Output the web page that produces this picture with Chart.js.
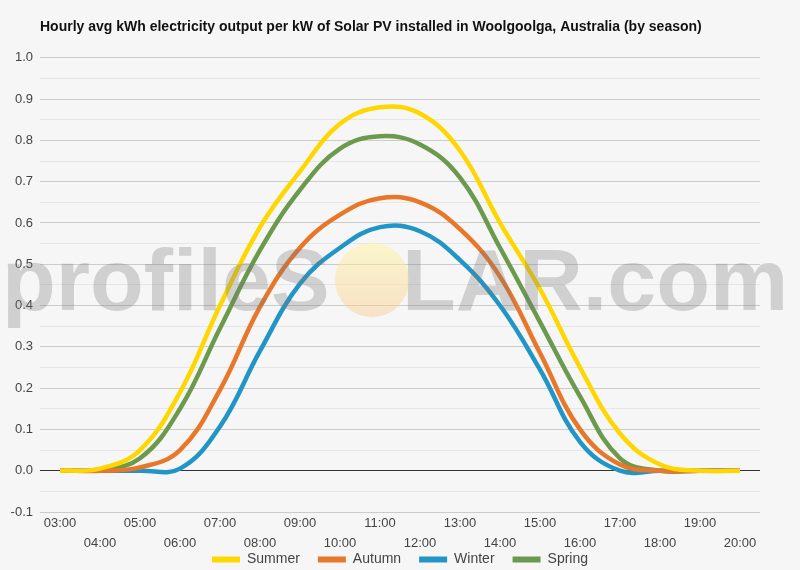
<!DOCTYPE html>
<html>
<head>
<meta charset="utf-8">
<script src="https://cdn.jsdelivr.net/npm/chart.js@4"></script>
<style>
  html, body { margin: 0; padding: 0; background: #f6f6f6; }
  #wrap { width: 800px; height: 570px; position: relative; }
</style>
</head>
<body>
<div id="wrap"><canvas id="myChart"></canvas></div>
<script>

var hours = ['03:00', '04:00', '05:00', '06:00', '07:00', '08:00', '09:00', '10:00', '11:00',
             '12:00', '13:00', '14:00', '15:00', '16:00', '17:00', '18:00', '19:00', '20:00'];

var summer = [0, 0.005, 0.05, 0.19, 0.40, 0.59, 0.725, 0.84, 0.88, 0.865, 0.775, 0.60, 0.44, 0.25, 0.09, 0.015, 0, 0];
var autumn = [0, 0, 0.008, 0.05, 0.196, 0.397, 0.54, 0.62, 0.66, 0.65, 0.585, 0.47, 0.285, 0.10, 0.015, 0, 0, 0];
var winter = [0, 0, 0, 0.005, 0.107, 0.29, 0.453, 0.54, 0.59, 0.58, 0.51, 0.40, 0.245, 0.07, 0, 0, 0, 0];
var spring = [0, 0.003, 0.03, 0.15, 0.345, 0.534, 0.68, 0.78, 0.81, 0.79, 0.71, 0.54, 0.36, 0.18, 0.03, 0, 0, 0];

var seasonNames = ['Summer', 'Autumn', 'Winter', 'Spring'];
var seasonColors = ['#ffd700', '#e8772a', '#2196c6', '#6b9a4c'];

var FONT = '"Liberation Sans", Arial, sans-serif';

var tweaks = {
  id: 'tweaks',
  beforeLayout: function(chart) {
    // keep legend thin, items still spaced by labels.padding
    var lg = chart.legend;
    if (lg && !lg._thin) {
      var fit = lg.fit;
      lg.fit = function() { fit.call(this); this.height = 26; };
      lg._thin = true;
    }
  },
  afterLayout: function(chart) {
    var lg = chart.legend;
    lg.top = 534.5;
    lg.left += 20;
    lg.right += 20;
  },
  // watermark sits on top of everything, semi transparent
  afterDraw: function(chart) {
    var ctx = chart.ctx;
    ctx.save();
    ctx.font = 'bold 88px ' + FONT;
    ctx.textBaseline = 'alphabetic';
    ctx.fillStyle = 'rgba(120, 120, 120, 0.3)';
    ctx.fillText('profileS', 2, 310);
    ctx.fillText('LAR.com', 402, 310);
    var g = ctx.createLinearGradient(0, 243, 0, 317);
    g.addColorStop(0, 'rgba(255, 245, 150, 0.45)');
    g.addColorStop(1, 'rgba(250, 200, 140, 0.45)');
    ctx.fillStyle = g;
    ctx.beginPath();
    ctx.arc(372, 280, 37, 0, Math.PI * 2);
    ctx.fill();
    ctx.restore();
  }
};

var ctx = document.getElementById('myChart').getContext('2d');
var myChart = new Chart(ctx, {
  type: 'line',
  data: {
    labels: hours,
    datasets: seasonNames.map(function(name, i) {
      return {
        label: name,
        data: [summer, autumn, winter, spring][i],
        borderColor: seasonColors[i],
        backgroundColor: seasonColors[i],
        borderWidth: 4.5,
        pointRadius: 0,
        tension: 0.4,
        fill: false
      };
    })
  },
  options: {
    responsive: true,
    maintainAspectRatio: false,
    animation: false,
    layout: { padding: { left: 0, right: 40, top: 0, bottom: 0 } },
    plugins: {
      title: {
        display: true,
        text: 'Hourly avg kWh electricity output per kW of Solar PV installed in Woolgoolga, Australia (by season)',
        align: 'start',
        fullSize: false,
        color: '#111',
        font: { family: FONT, size: 14, weight: 'bold' },
        padding: { top: 19, bottom: 22 }
      },
      legend: {
        position: 'bottom',
        labels: {
          boxWidth: 28,
          boxHeight: 6,
          padding: 18,
          color: '#444',
          font: { family: FONT, size: 14 },
          generateLabels: function(chart) {
            var items = Chart.defaults.plugins.legend.labels.generateLabels(chart);
            items.forEach(function(it) { it.lineWidth = 0; });
            return items;
          }
        }
      },
      tooltip: { enabled: false }
    },
    scales: {
      x: {
        offset: true,
        grid: { display: false, drawTicks: false },
        border: { display: false },
        afterFit: function(scale) {
          scale.height = 32;
          // let the second row of labels run past the scale box
          scale._computeLabelArea = function() {};
        },
        ticks: {
          autoSkip: false,
          maxRotation: 0,
          padding: 1,
          color: '#444',
          font: { family: FONT, size: 13, lineHeight: 20 / 13 },
          callback: function(v, i) {
            var lab = this.getLabelForValue(v);
            return i % 2 ? ['', lab] : lab;
          }
        }
      },
      y: {
        min: -0.1,
        max: 1.0,
        afterFit: function(scale) { scale.width = 40; },
        border: { display: false },
        grid: {
          drawTicks: false,
          lineWidth: 1,
          color: function(c) {
            var v = Math.round(c.tick.value * 100);
            if (v === 0) return '#333';
            return v % 10 === 0 ? '#cccccc' : '#e6e6e6';
          }
        },
        ticks: {
          stepSize: 0.05,
          padding: 7,
          color: '#444',
          font: { family: FONT, size: 13 },
          callback: function(v) {
            var r = Math.round(v * 100);
            return r % 10 === 0 ? (r / 100).toFixed(1) : '';
          }
        }
      }
    }
  },
  plugins: [tweaks]
});

</script>
</body>
</html>
